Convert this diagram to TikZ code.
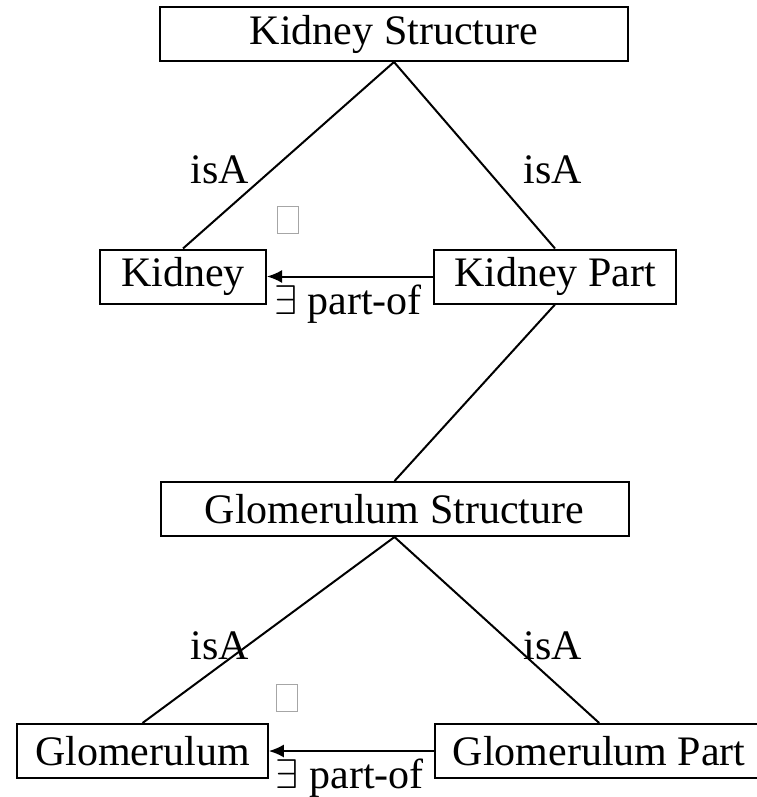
\documentclass[tikz,border=0pt]{standalone}
\usepackage{fontspec}
\setmainfont{Liberation Serif}
\usetikzlibrary{positioning,arrows.meta}
\tikzset{
  concept/.style={rectangle, draw, line width=1pt, minimum height=27pt, inner xsep=9pt, font=\fontsize{21}{25}\selectfont},
  widebox/.style={minimum width=234pt},
  isa/.style={font=\fontsize{21}{25}\selectfont, inner sep=0pt},
  rel/.style={font=\fontsize{21}{25}\selectfont, inner sep=0pt, anchor=north west, xshift=3pt, yshift=-3.5pt},
  link/.style={line width=1pt},
  partof/.style={<-, line width=1pt, >={Latex[length=7.5pt,width=6.5pt]}},
  missing/.style={draw=gray!70, line width=0.5pt, minimum width=10.5pt, minimum height=13.5pt, inner sep=0pt},
}
\begin{document}
\begin{tikzpicture}[x=0.5pt, y=-0.5pt]
\useasboundingbox (0,0) rectangle (756,797);
%Nodes
\node[concept, widebox] (kstruct) at (394,34) {Kidney Structure};
\node[concept, minimum width=83pt] (kidney) at (183,276.5) {Kidney};
\node[concept, minimum width=121pt] (kpart) [right=83pt of kidney] {Kidney Part};
\node[concept, widebox] (gstruct) at (394.5,509) {Glomerulum Structure};
\node[concept, minimum width=124.5pt] (glom) at (142.5,751) {Glomerulum};
\node[concept, minimum width=160.5pt] (gpart) [right=82.5pt of glom] {Glomerulum Part};

\node[isa, anchor=base] (isa1) at (220,184) {isA};
\node[isa, anchor=base] (isa2) at (553,184) {isA};
\node[isa, anchor=base] (isa3) at (220,659) {isA};
\node[isa, anchor=base] (isa4) at (553,659) {isA};

\node[missing] (sub1) at (288,220) {};
\node[missing] (sub2) at (287,698) {};

%Lines
\draw[link] (kstruct.south) -- (kidney.north);
\draw[link] (kstruct.south) -- (kpart.north);
\draw[link] (kpart.south) -- (gstruct.north);
\draw[link] (gstruct.south) -- (glom.north);
\draw[link] (gstruct.south) -- (gpart.north);
\draw[partof] (kidney.east) -- (kpart.west) node[rel, pos=0] {$\exists$ part-of};
\draw[partof] (glom.east) -- (gpart.west) node[rel, pos=0] {$\exists$ part-of};
\end{tikzpicture}
\end{document}
